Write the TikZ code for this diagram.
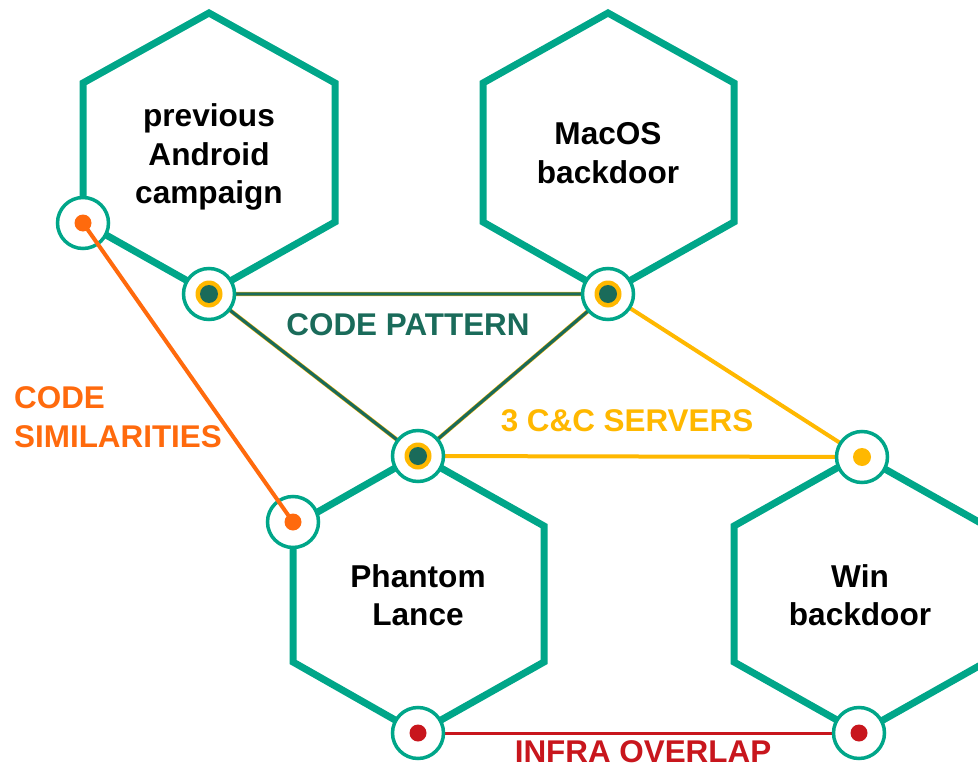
\documentclass[tikz,border=0pt]{standalone}
\usepackage{fontspec}
\setmainfont{Liberation Sans}
\definecolor{hexteal}{HTML}{00A689}
\definecolor{dkgreen}{HTML}{1A6B5A}
\definecolor{cyellow}{HTML}{FFB800}
\definecolor{corange}{HTML}{FF6A0D}
\definecolor{cred}{HTML}{C8161D}
\tikzset{
  hex/.style={draw=hexteal, line width=7pt, line join=miter},
  ring/.style={circle, draw=hexteal, fill=white, line width=3.5pt, minimum size=51pt, inner sep=0pt},
  dotfill/.style={circle, fill=#1, inner sep=0pt, minimum size=17pt},
  ydot/.style={circle, fill=cyellow, inner sep=0pt, minimum size=27pt},
  gdot/.style={circle, fill=dkgreen, inner sep=0pt, minimum size=18pt},
  hextext/.style={font=\bfseries\fontsize{31.6}{38.5}\selectfont, align=center, text=black, inner sep=0pt},
  lbl/.style={font=\bfseries\fontsize{31.4}{39}\selectfont, inner sep=0pt},
  pattern line/.style={draw=dkgreen, line width=3.2pt},
  pattern under/.style={draw=cyellow, line width=4.2pt},
  cc line/.style={draw=cyellow, line width=4pt},
  sim line/.style={draw=corange, line width=4pt},
  infra line/.style={draw=cred, line width=3pt}
}
\begin{document}
\begin{tikzpicture}[x=1pt,y=-1pt]
\useasboundingbox (0,0) rectangle (978,768);
\clip (0,0) rectangle (978,768);
\fill[white] (0,0) rectangle (978,768);

% hexagons
\draw[hex] (209,13) -- (335,83) -- (335,222) -- (209,293) -- (83,222) -- (83,83) -- cycle;
\draw[hex] (608,13) -- (734,83) -- (734,222) -- (608,293) -- (483,222) -- (483,83) -- cycle;
\draw[hex] (418,455) -- (544,526) -- (544,662) -- (418,733) -- (293,662) -- (293,526) -- cycle;
\draw[hex] (860,455) -- (986,526) -- (986,662) -- (860,733) -- (734,662) -- (734,526) -- cycle;

% hexagon texts
\node[hextext] (tAndroid) at (209,157) {previous\\Android\\campaign};
\node[hextext] (tMac) at (608,153) {MacOS\\backdoor};
\node[hextext] (tPhantom) at (418,595) {Phantom\\Lance};
\node[hextext] (tWin) at (860,595) {Win\\backdoor};

% anchor points
\coordinate (cA) at (209,294);
\coordinate (cS) at (83,223);
\coordinate (cM) at (608,294);
\coordinate (cP) at (418,456);
\coordinate (cL) at (293,522);
\coordinate (cW) at (862,457);
\coordinate (cPB) at (418,733);
\coordinate (cWB) at (859,733);

% code pattern
\draw[pattern under, yshift=-1.6pt] (cA) -- (cM) -- (cP) -- cycle;
\draw[pattern line] (cA) -- (cM) -- (cP) -- cycle;
% C&C
\draw[cc line] (cM) -- (cW);
\draw[cc line] (cP) -- (cW);
% infra
\draw[infra line] (cPB) -- (cWB);

% rings
\node[ring] (nA) at (cA) {};
\node[ring] (nS) at (cS) {};
\node[ring] (nM) at (cM) {};
\node[ring] (nP) at (cP) {};
\node[ring] (nL) at (cL) {};
\node[ring] (nW) at (cW) {};
\node[ring] (nPB) at (cPB) {};
\node[ring] (nWB) at (cWB) {};

% code similarities (over rings)
\draw[sim line] (nS.center) -- (nL.center);

% dots
\node[ydot] (yA) at (nA) {};
\node[gdot] (gA) at (nA) {};
\node[ydot] (yM) at (nM) {};
\node[gdot] (gM) at (nM) {};
\node[ydot] (yP) at (nP) {};
\node[gdot] (gP) at (nP) {};
\node[dotfill=cyellow, minimum size=18pt] (dW) at (nW) {};
\node[dotfill=corange] (dS) at (nS) {};
\node[dotfill=corange] (dL) at (nL) {};
\node[dotfill=cred] (dPB) at (nPB) {};
\node[dotfill=cred] (dWB) at (nWB) {};

% labels
\node[lbl, text=dkgreen] (lPattern) at (408,325) {CODE PATTERN};
\node[lbl, text=cyellow] (lCC) at (627,421) {3 C\&C SERVERS};
\node[lbl, text=corange, align=left, anchor=north west] (lSim) at (14,386) {CODE\\SIMILARITIES};
\node[lbl, text=cred] (lInfra) at (643,752) {INFRA OVERLAP};
\end{tikzpicture}
\end{document}
